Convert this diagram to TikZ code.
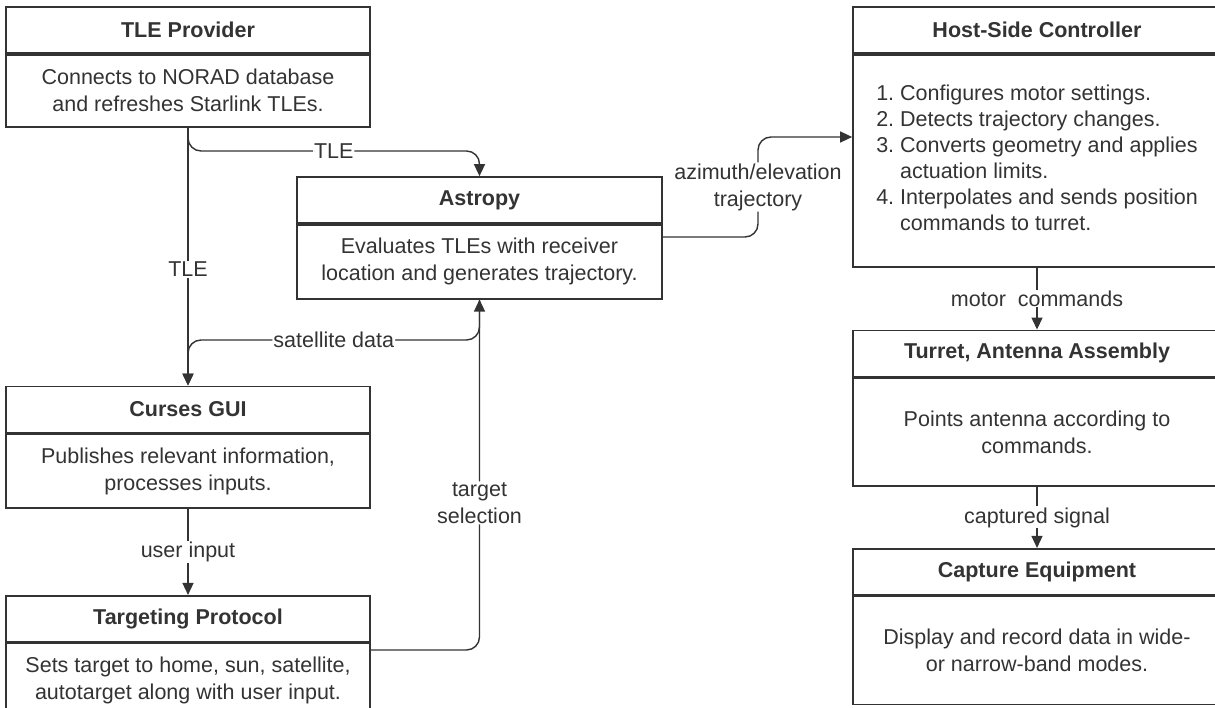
\documentclass[tikz,border=0pt]{standalone}
\usepackage{fontspec}
\setmainfont{Liberation Sans}
\usetikzlibrary{arrows.meta,positioning}
\definecolor{ink}{HTML}{333333}

\begin{document}
\begin{tikzpicture}[x=1pt,y=-1pt,>={Triangle[length=12pt,width=11pt]},
  font=\fontsize{21.5}{27}\selectfont,color=ink,line width=1.4pt]
	\tikzstyle{head}=[draw,line width=1.7pt,minimum width=364pt,minimum height=46pt,inner sep=0pt,font=\fontsize{21.5}{27}\selectfont\bfseries]
	\tikzstyle{body}=[draw,line width=1.7pt,minimum width=364pt,align=center,inner sep=0pt]
	\tikzstyle{flow}=[->,rounded corners=13pt]
	\tikzstyle{lbl}=[fill=white,inner sep=1pt,align=center]

  \clip (0,0) rectangle (1215,708);

  % left column
  \node[head]                                     (tle)   at (188,30)  {TLE Provider};
  \node[body,minimum height=72pt] (tleb)  [below=0pt of tle]   {Connects to NORAD database\\and refreshes Starlink TLEs.};
  \node[head]                                     (gui)   [below=258pt of tleb] {Curses GUI};
  \node[body,minimum height=74pt] (guib)  [below=0pt of gui]   {Publishes relevant information,\\processes inputs.};
  \node[head]                                     (tgt)   [below=86pt of guib]  {Targeting Protocol};
  \node[body,minimum height=74pt] (tgtb)  [below=0pt of tgt]   {Sets target to home, sun, satellite,\\autotarget along with user input.};

  % middle
  \node[head,minimum width=365pt]                 (astro) at (479.5,200) {Astropy};
  \node[body,minimum width=365pt,minimum height=74pt] (astrob) [below=0pt of astro] {Evaluates TLEs with receiver\\location and generates trajectory.};

  % right column
  \node[head,minimum width=368pt]                 (host)  at (1037,30) {Host-Side Controller};
  \node[body,minimum width=368pt,minimum height=212pt] (hostb) [below=0pt of host]
    {\fontsize{21.5}{26}\selectfont\begin{tabular}{@{}r@{\ }l@{}}
      1.&Configures motor settings.\\
      2.&Detects trajectory changes.\\
      3.&Converts geometry and applies\\
        &actuation limits.\\
      4.&Interpolates and sends position\\
        &commands to turret.
    \end{tabular}};
  \node[head,minimum width=368pt]                 (tur)   [below=62pt of hostb] {Turret, Antenna Assembly};
  \node[body,minimum width=368pt,minimum height=108pt] (turb) [below=0pt of tur] {Points antenna according to\\commands.};
  \node[head,minimum width=368pt]                 (cap)   [below=61pt of turb]  {Capture Equipment};
  \node[body,minimum width=368pt,minimum height=108pt] (capb) [below=0pt of cap] {Display and record data in wide-\\or narrow-band modes.};

  \coordinate (azbend) at (758,137);

  \draw[->] (tleb.south) -- node[lbl,pos=0.55] {TLE} (gui.north);
  \draw[flow] (tleb.south) |- node[lbl,pos=0.75] {TLE} (astro.north |- 0,151) -- (astro.north);
  \draw[flow] (astrob.south) |- node[lbl,pos=0.75] {satellite data} (gui.north |- 0,340) -- (gui.north);
  \draw[flow] (tgtb.east |- 0,650) -| node[lbl,pos=0.71] {target\\selection} (astrob.south);
  \draw[->] (guib.south) -- node[lbl] {user input} (tgt.north);
  \draw[flow] (astrob.east |- 0,237) -| node[lbl,pos=0.75] {azimuth/elevation\\trajectory} (azbend) -- (hostb.west |- azbend);
  \draw[->] (hostb.south) -- node[lbl] {motor\ \ commands} (tur.north);
  \draw[->] (turb.south) -- node[lbl] {captured signal} (cap.north);

\end{tikzpicture}
\end{document}
